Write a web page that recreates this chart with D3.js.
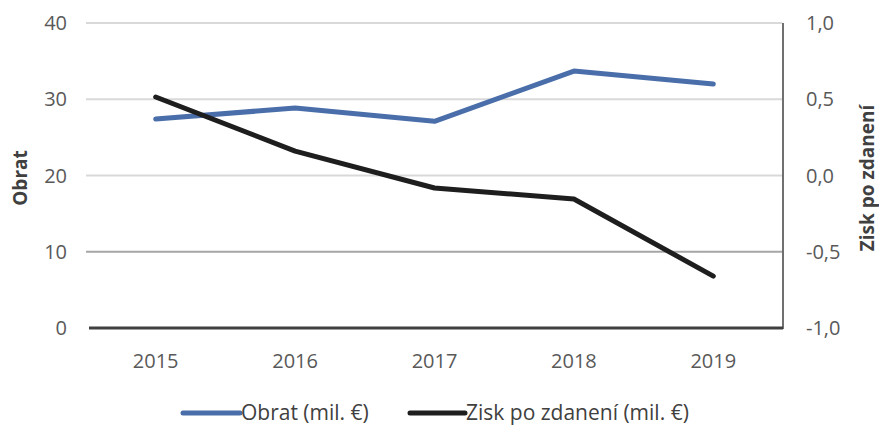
<!DOCTYPE html>
<html><head><meta charset="utf-8">
<script src="https://cdn.jsdelivr.net/npm/d3@7"></script>
<style>body{margin:0;background:#fff}svg{display:block}text{font-family:"Open Sans",sans-serif}</style>
</head><body><svg id="c" width="879" height="432"></svg>
<script>
const years = ["2015","2016","2017","2018","2019"];
const obrat = [27.4, 28.85, 27.1, 33.7, 32.0];
const zisk = [0.515, 0.16, -0.082, -0.154, -0.66];
const leftTicks = [0,10,20,30,40];
const rightTicks = [-1.0,-0.5,0.0,0.5,1.0];
const seriesNames = ["Obrat (mil. €)", "Zisk po zdanení (mil. €)"];
const colors = ["#4a6eaa", "#1e1e1e"];

const svg = d3.select("#c");
const L = 86, R = 783, T = 23, B = 328;
const x = d3.scaleBand().domain(years).range([L, R]);
const yL = d3.scaleLinear().domain([0,40]).range([B, T]);
const yR = d3.scaleLinear().domain([-1,1]).range([B, T]);

// gridlines
svg.append("g").selectAll("line").data(leftTicks.filter(d=>d>0)).join("line")
  .attr("x1", L).attr("x2", R-1).attr("y1", d=>yL(d)).attr("y2", d=>yL(d))
  .attr("stroke", d=> d===10 ? "#a6a6a6" : "#d9d9d9").attr("stroke-width", 2);

// bottom axis line
svg.append("line").attr("x1", L+3).attr("x2", R).attr("y1", B).attr("y2", B)
  .attr("stroke", "#404040").attr("stroke-width", 3);
// right axis line
svg.append("line").attr("x1", R).attr("x2", R).attr("y1", T).attr("y2", B+1)
  .attr("stroke", "#404040").attr("stroke-width", 1.5);

// left tick labels
svg.append("g").selectAll("text").data(leftTicks).join("text")
  .attr("x", 67).attr("y", d=>yL(d)).attr("dy", "0.35em").attr("text-anchor","end")
  .attr("font-size", 20).attr("fill", "#595959").text(d=>d);
// right tick labels
const fmt = d => d3.format(".1f")(d).replace(".", ",").replace("−","-");
svg.append("g").selectAll("text").data(rightTicks).join("text")
  .attr("x", 806).attr("y", d=>yR(d)).attr("dy", "0.35em").attr("text-anchor","start")
  .attr("font-size", 20).attr("fill", "#595959").text(d=>fmt(d));
// x labels
svg.append("g").selectAll("text").data(years).join("text")
  .attr("x", d=>x(d)+x.bandwidth()/2).attr("y", 361).attr("dy","0.35em").attr("text-anchor","middle")
  .attr("font-size", 20).attr("fill", "#595959").text(d=>d);

// axis titles
svg.append("text").attr("transform", "translate(27,178) rotate(-90)").attr("text-anchor","middle")
  .attr("font-size", 19).attr("font-weight","bold").attr("fill","#404040").text("Obrat");
svg.append("text").attr("transform", "translate(874,178) rotate(-90)").attr("text-anchor","middle")
  .attr("font-size", 19).attr("font-weight","bold").attr("fill","#404040").text("Zisk po zdanení");

// lines
const cx = d => x(d)+x.bandwidth()/2;
svg.append("path").datum(obrat.map((v,i)=>[cx(years[i]), yL(v)]))
  .attr("d", d3.line()).attr("fill","none").attr("stroke", colors[0]).attr("stroke-width",5)
  .attr("stroke-linecap","round").attr("stroke-linejoin","round");
svg.append("path").datum(zisk.map((v,i)=>[cx(years[i]), yR(v)]))
  .attr("d", d3.line()).attr("fill","none").attr("stroke", colors[1]).attr("stroke-width",5)
  .attr("stroke-linecap","round").attr("stroke-linejoin","round");

// legend
const leg = [{x1:183, x2:240, tx:241}, {x1:410, x2:465, tx:466}];
leg.forEach((l,i)=>{
  svg.append("line").attr("x1",l.x1).attr("x2",l.x2).attr("y1",413).attr("y2",413)
    .attr("stroke",colors[i]).attr("stroke-width",5).attr("stroke-linecap","round");
  svg.append("text").attr("x",l.tx).attr("y",413).attr("dy","0.35em")
    .attr("font-size",21).attr("fill","#404040").text(seriesNames[i]);
});
</script></body></html>
